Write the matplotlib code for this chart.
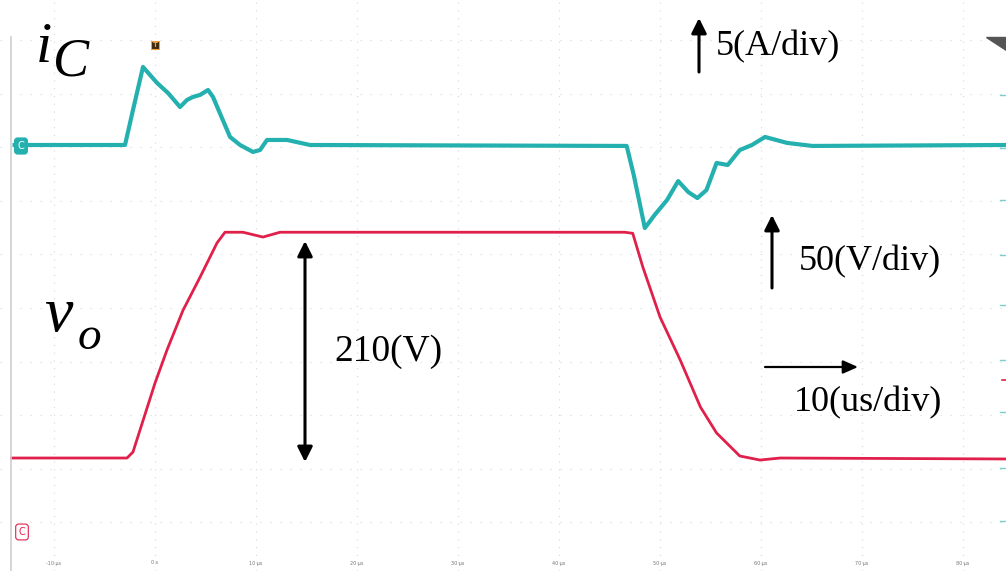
import matplotlib
matplotlib.use("Agg")
import matplotlib.pyplot as plt
import numpy as np

# ---------------- data ----------------
# time in microseconds
ic_time = [-13.9, -2.97, -2.18, -1.19, -0.50, 0.20, 1.29, 2.48, 3.17, 3.76, 4.46, 5.25,
           5.74, 6.63, 7.43, 8.42, 9.70, 10.4, 11.09, 13.07, 15.35, 46.7, 47.4, 48.5,
           49.5, 50.7, 51.8, 52.8, 53.7, 54.6, 55.6, 56.7, 57.9, 59.1, 60.4, 62.6, 65.1, 84.3]
# capacitor current in A
ic_amp = [0.0, 0.0, 3.27, 7.29, 6.55, 5.80, 4.86, 3.55, 4.21, 4.49, 4.68, 5.14,
          4.49, 2.52, 0.75, 0.0, -0.65, -0.47, 0.47, 0.47, 0.0, -0.09, -2.8, -7.76,
          -6.5, -5.14, -3.37, -4.4, -4.96, -4.21, -1.68, -1.87, -0.47, 0.0, 0.75, 0.19, -0.09, 0.0]

vo_time = [-14.2, -2.77, -2.18, 0.0, 1.19, 2.77, 4.46, 6.14, 6.93, 8.71, 10.69, 12.38,
           46.5, 47.3, 48.3, 50.0, 52.0, 54.0, 55.6, 57.9, 59.9, 61.9, 84.3]
# output voltage in V
vo_volt = [0.0, 0.0, 5.6, 70.0, 101.0, 138.0, 169.0, 201.0, 211.0, 211.0, 206.5, 211.0,
           211.0, 210.0, 178.5, 131.8, 91.6, 47.7, 23.4, 1.9, -1.9, 0.0, -0.9]

# scope scales / channel offsets (divisions)
amp_per_div = 5.0
volt_per_div = 50.0
ic_offset_div = 7.047
vo_offset_div = 1.196

tick_times = [-10, 0, 10, 20, 30, 40, 50, 60, 70, 80]
tick_labels = ["-10 µs", "0 s", "10 µs", "20 µs", "30 µs", "40 µs", "50 µs", "60 µs", "70 µs", "80 µs"]

teal = "#25b0b0"
red = "#e0204a"

W, H = 1006, 571
fig = plt.figure(figsize=(W / 100, H / 100), dpi=100)
fig.patch.set_facecolor("white")

# scope axes (time in µs, vertical in divisions)
ax = fig.add_axes([0, 0, 1, 1])
px_per_us = 10.1
x0_px = 155.0
ax.set_xlim(-x0_px / px_per_us, (W - x0_px) / px_per_us)
div_px = 53.5
ax.set_ylim((522 - H) / div_px, 522 / div_px)
for s in ax.spines.values():
    s.set_visible(False)
ax.set_xticks([])
ax.set_yticks([])

# faint dotted grid
for t in tick_times:
    ax.axvline(t, color="#d8d8d8", lw=0.8, ls=(0, (1, 6)), zorder=0)
for k in range(0, 10):
    ax.axhline(k, color="#d8d8d8", lw=0.8, ls=(0, (1, 8)), zorder=0)

ic_div = np.array(ic_amp) / amp_per_div + ic_offset_div
vo_div = np.array(vo_volt) / volt_per_div + vo_offset_div
ax.plot(ic_time, ic_div, color=teal, lw=3.0, solid_joinstyle="round", zorder=3)
ax.plot(vo_time, vo_div, color=red, lw=2.0, solid_joinstyle="round", zorder=3)

for t, lab in zip(tick_times, tick_labels):
    ax.text(t, (522 - 563) / div_px, lab, fontsize=3.5, color="#777777",
            ha="center", va="center")

# overlay in pixel coordinates for annotations
ov = fig.add_axes([0, 0, 1, 1], facecolor="none")
ov.set_xlim(0, W)
ov.set_ylim(H, 0)
ov.axis("off")

# left frame line
ov.plot([11, 11], [37, H], color="#cfcfcf", lw=1.2)

# channel markers
ov.text(21, 146, "C", fontsize=7, color="white", ha="center", va="center",
        bbox=dict(boxstyle="round,pad=0.3", fc=teal, ec=teal))
ov.text(22, 532, "C", fontsize=7, color=red, ha="center", va="center",
        bbox=dict(boxstyle="round,pad=0.3", fc="white", ec=red, lw=0.8))
ov.text(155, 45, "T", fontsize=5, color="#f0a040", ha="center", va="center", fontweight="bold",
        bbox=dict(boxstyle="square,pad=0.2", fc="#3a2a10", ec="#f0a040", lw=0.8))
ov.fill([986, 1006, 1006], [37, 37, 50], color="#555555")

serif = ["Liberation Serif", "DejaVu Serif"]

# labels i_C and v_o
ov.text(36, 62, "i", fontsize=42, fontstyle="italic", family=serif, ha="left", va="baseline")
ov.text(53, 76, "C", fontsize=39, fontstyle="italic", family=serif, ha="left", va="baseline")
ov.text(44, 331, "v", fontsize=46, fontstyle="italic", family=serif, ha="left", va="baseline")
ov.text(78, 349, "o", fontsize=34, fontstyle="italic", family=serif, ha="left", va="baseline")

arrow_kw = dict(arrowstyle="-|>,head_length=0.9,head_width=0.45", color="black", lw=2.2,
                shrinkA=0, shrinkB=0)
# 5(A/div)
ov.annotate("", xy=(699, 18), xytext=(699, 72), arrowprops=arrow_kw)
ov.text(716, 47, "5(A/div)", fontsize=26, family=serif, ha="left", va="center")
# 50(V/div)
ov.annotate("", xy=(772, 215), xytext=(772, 288), arrowprops=arrow_kw)
ov.text(799, 262, "50(V/div)", fontsize=26, family=serif, ha="left", va="center")
# 210(V)
ov.annotate("", xy=(305, 241), xytext=(305, 462),
            arrowprops=dict(arrowstyle="<|-|>,head_length=0.9,head_width=0.45", color="black",
                            lw=2.2, shrinkA=0, shrinkB=0))
ov.text(334, 352, "210(V)", fontsize=27, family=serif, ha="left", va="center")
# 10(us/div)
ov.annotate("", xy=(858, 367), xytext=(765, 367),
            arrowprops=dict(arrowstyle="-|>,head_length=0.9,head_width=0.4", color="black",
                            lw=1.6, shrinkA=0, shrinkB=0))
ov.text(794, 403, "10(us/div)", fontsize=26, family=serif, ha="left", va="center")

# right-edge channel ticks
for y in [95, 148, 200, 255, 305, 360, 412, 468, 521]:
    ov.plot([1000, 1006], [y, y], color=teal, lw=1.0, alpha=0.6)
ov.plot([1002, 1006], [380, 380], color=red, lw=1.2)

fig.savefig("out.png", dpi=100, facecolor="white")
